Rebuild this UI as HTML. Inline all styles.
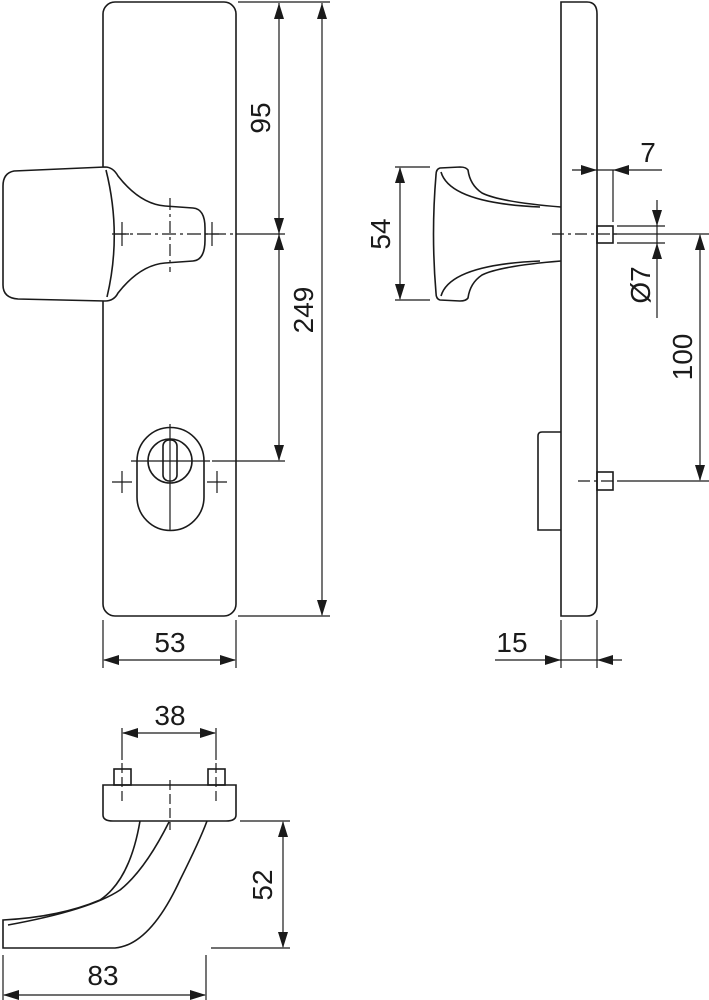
<!DOCTYPE html>
<html><head><style>body{margin:0;background:#fff}svg{display:block}</style></head><body>
<svg id="s" width="709" height="1000" viewBox="0 0 709 1000" xmlns="http://www.w3.org/2000/svg" font-family="Liberation Sans, sans-serif" fill="none" stroke="#1a1a1a" stroke-width="1.6">
<!-- front plate -->
<rect x="103" y="2" width="133" height="614" rx="12"/>
<!-- knob -->
<path d="M105,167 L14,171 Q3,173 3,186 L3,285 Q3,298 18,299 L105,301 Q114,301 118,293 Q140,265 165,263 L193,261 Q205,260 205,240 L205,228 Q205,209 193,208 L165,206 Q140,204 118,176 Q113,167 105,167Z" fill="#fff"/>
<path d="M106,170 Q122,234 107,297"/>
<path d="M112,234 H236" stroke-dasharray="14,4,3,4" stroke-width="1.2"/>
<path d="M170,198 V272" stroke-dasharray="12,4,3,4" stroke-width="1.2"/>
<path d="M122,222 V246 M212,222 V246 M115,234 H129 M205,234 H219" stroke-width="1.2"/>
<!-- cylinder -->
<path d="M137,461 A33,33 0 0 1 204,461 V497 A33,33 0 0 1 137,497Z"/>
<circle cx="170" cy="461" r="22"/>
<rect x="163" y="440" width="14" height="41" rx="6"/>
<path d="M131,461 H210 M170,424 V530" stroke-width="1.2"/>
<path d="M112,482 H132 M122,471 V493 M207,482 H227 M217,471 V493" stroke-width="1.2"/>
<!-- dims front -->
<path d="M238,2 H330 M238,616 H330 M236,234 H285 M212,461 H285" stroke-width="1.2"/>
<path d="M279,3 V460 M322,3 V615" stroke-width="1.2"/>
<g fill="#1a1a1a" stroke="none" font-size="28">
<text transform="translate(270,118) rotate(-90)" text-anchor="middle">95</text>
<text transform="translate(313,310) rotate(-90)" text-anchor="middle">249</text>
<text x="170" y="652" text-anchor="middle">53</text>
<text x="512" y="652" text-anchor="middle">15</text>
<text x="648" y="162" text-anchor="middle">7</text>
<text transform="translate(650,285) rotate(-90)" text-anchor="middle">Ø7</text>
<text transform="translate(692,357) rotate(-90)" text-anchor="middle">100</text>
<text transform="translate(390,234) rotate(-90)" text-anchor="middle">54</text>
<text x="170" y="725" text-anchor="middle">38</text>
<text transform="translate(272,885) rotate(-90)" text-anchor="middle">52</text>
<text x="103" y="985" text-anchor="middle">83</text>
</g>
<path d="M103,620 V668 M236,620 V668 M104,660 H235" stroke-width="1.2"/>
<!-- side view -->
<path d="M561,2 H587 Q597,2 597,14 V604 Q597,616 587,616 H561Z"/>
<path d="M561,432 H542 Q538,432 538,436 V530 H561"/>
<path d="M561,207 Q500,202 482,193 Q470,185 468,170 Q466,167 460,167 L440,168 Q436,169 436,175 Q431,234 436,293 Q436,299 440,300 L460,301 Q466,301 468,298 Q470,283 482,275 Q500,266 561,261"/>
<path d="M441,172 Q450,203 540,207 M441,296 Q450,265 540,261"/>
<rect x="597" y="226" width="16" height="17"/>
<rect x="597" y="472" width="16" height="18"/>
<path d="M552,234 H620 M578,481 H620" stroke-dasharray="12,4,3,4" stroke-width="1.2"/>
<path d="M613,234 H710 M620,481 H710 M617,226 H665 M617,243 H665 M395,167 H430 M395,300 H430 M613,170 V222" stroke-width="1.2"/>
<path d="M400,168 V299 M700,235 V480 M572,170 H662 M657,200 V318" stroke-width="1.2"/>
<path d="M561,620 V668 M597,620 V668 M495,660 H622" stroke-width="1.2"/>
<!-- bottom view -->
<path d="M103,785 H236 V815 Q236,821 226,821 H113 Q103,821 103,815Z"/>
<rect x="114" y="769" width="17" height="16"/>
<rect x="208" y="769" width="17" height="16"/>
<path d="M122,763 V805 M216,763 V805 M170,780 V830" stroke-dasharray="10,4" stroke-width="1.2"/>
<path d="M122,728 V760 M216,728 V760 M123,733 H215" stroke-width="1.2"/>
<path d="M140,821 Q130,880 100,900 Q60,917 3,920 V948 H115 Q150,945 180,880 Q200,840 207,821"/>
<path d="M169,822 Q145,870 120,890 Q90,910 8,925"/>
<path d="M240,821 H290 M211,948 H290 M3,955 V1000 M206,955 V1000" stroke-width="1.2"/>
<path d="M283,822 V947 M4,995 H205" stroke-width="1.2"/>
<g fill="#1a1a1a" stroke="none">
<!-- arrows: tip points -->
<path d="M279,234 l-5,-16 h10z M279,234 l-5,16 h10z M279,3 l-5,16 h10z M279,461 l-5,-16 h10z"/>
<path d="M322,3 l-5,16 h10z M322,616 l-5,-16 h10z"/>
<path d="M103,660 l16,-5 v10z M236,660 l-16,-5 v10z"/>
<path d="M400,167 l-5,16 h10z M400,300 l-5,-16 h10z"/>
<path d="M700,234 l-5,16 h10z M700,481 l-5,-16 h10z"/>
<path d="M597,170 l-16,-5 v10z M613,170 l16,-5 v10z"/>
<path d="M657,226 l-5,-16 h10z M657,243 l-5,16 h10z"/>
<path d="M561,660 l-16,-5 v10z M597,660 l16,-5 v10z"/>
<path d="M122,733 l16,-5 v10z M216,733 l-16,-5 v10z"/>
<path d="M283,821 l-5,16 h10z M283,948 l-5,-16 h10z"/>
<path d="M3,995 l16,-5 v10z M206,995 l-16,-5 v10z"/>
</g>
</svg>
</body></html>
